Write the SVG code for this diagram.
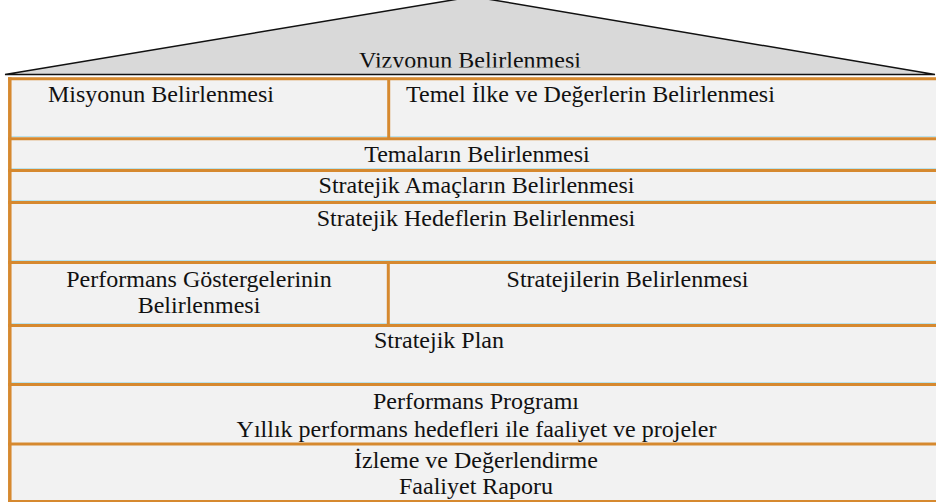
<svg xmlns="http://www.w3.org/2000/svg" width="936" height="502" viewBox="0 0 936 502">
<defs>
<clipPath id="vclip"><rect x="0" y="0" width="936" height="67.5"/></clipPath>
</defs>
<rect x="0" y="0" width="936" height="502" fill="#ffffff"/>
<g id="vizyon">
<polygon points="5,74.5 473,-3.4 935,74.5" fill="#d9d9d9" stroke="#111" stroke-width="1.5"/>
<text font-family="Liberation Serif, serif" font-size="24" fill="#111" text-anchor="middle" x="470" y="68" clip-path="url(#vclip)">Vizyonun Belirlenmesi</text>
</g>
<rect x="10" y="77" width="926" height="425" fill="#f2f2f2"/>
<g id="grid" fill="none">
<g stroke="#b9e2ec" stroke-width="1">
<line x1="11" y1="136.5" x2="936" y2="136.5"/>
<line x1="11" y1="168.5" x2="936" y2="168.5"/>
<line x1="11" y1="200.5" x2="936" y2="200.5"/>
<line x1="11" y1="260.5" x2="936" y2="260.5"/>
<line x1="11" y1="323.5" x2="936" y2="323.5"/>
<line x1="11" y1="382.5" x2="936" y2="382.5"/>
</g>
<g stroke="#d6892f" stroke-width="3">
<line x1="8" y1="78.7" x2="936" y2="78.7"/>
<line x1="8" y1="138.7" x2="936" y2="138.7"/>
<line x1="8" y1="170.5" x2="936" y2="170.5"/>
<line x1="8" y1="202.5" x2="936" y2="202.5"/>
<line x1="8" y1="262.5" x2="936" y2="262.5"/>
<line x1="8" y1="325.5" x2="936" y2="325.5"/>
<line x1="8" y1="384.5" x2="936" y2="384.5"/>
<line x1="8" y1="444" x2="936" y2="444"/>
<line x1="8" y1="501.5" x2="936" y2="501.5"/>
<line x1="9.8" y1="77.2" x2="9.8" y2="502" stroke-width="3.5"/>
<line x1="388.7" y1="78.7" x2="388.7" y2="140"/>
<line x1="388.3" y1="262.5" x2="388.3" y2="325.5"/>
</g>
</g>
<g font-family="Liberation Serif, serif" font-size="24" fill="#111" text-anchor="middle">
<g id="misyon"><text text-anchor="start" x="48" y="101.7">Misyonun Belirlenmesi</text></g>
<g id="temel-ilke"><text text-anchor="start" x="406" y="101.7">Temel İlke ve Değerlerin Belirlenmesi</text></g>
<g id="temalar"><text x="477" y="161.7">Temaların Belirlenmesi</text></g>
<g id="amaclar"><text x="476.5" y="192.7">Stratejik Amaçların Belirlenmesi</text></g>
<g id="hedefler"><text x="476" y="226">Stratejik Hedeflerin Belirlenmesi</text></g>
<g id="gostergeler"><text x="199" y="287.3">Performans Göstergelerinin</text><text x="199" y="313.3">Belirlenmesi</text></g>
<g id="stratejiler"><text x="627.5" y="286.7">Stratejilerin Belirlenmesi</text></g>
<g id="plan"><text x="439" y="347.5">Stratejik Plan</text></g>
<g id="program"><text x="476" y="409">Performans Programı</text><text x="476.5" y="436.7">Yıllık performans hedefleri ile faaliyet ve projeler</text></g>
<g id="izleme"><text x="476" y="467.7">İzleme ve Değerlendirme</text><text x="476" y="494.3">Faaliyet Raporu</text></g>
</g>
<g id="connectors"></g>
</svg>
